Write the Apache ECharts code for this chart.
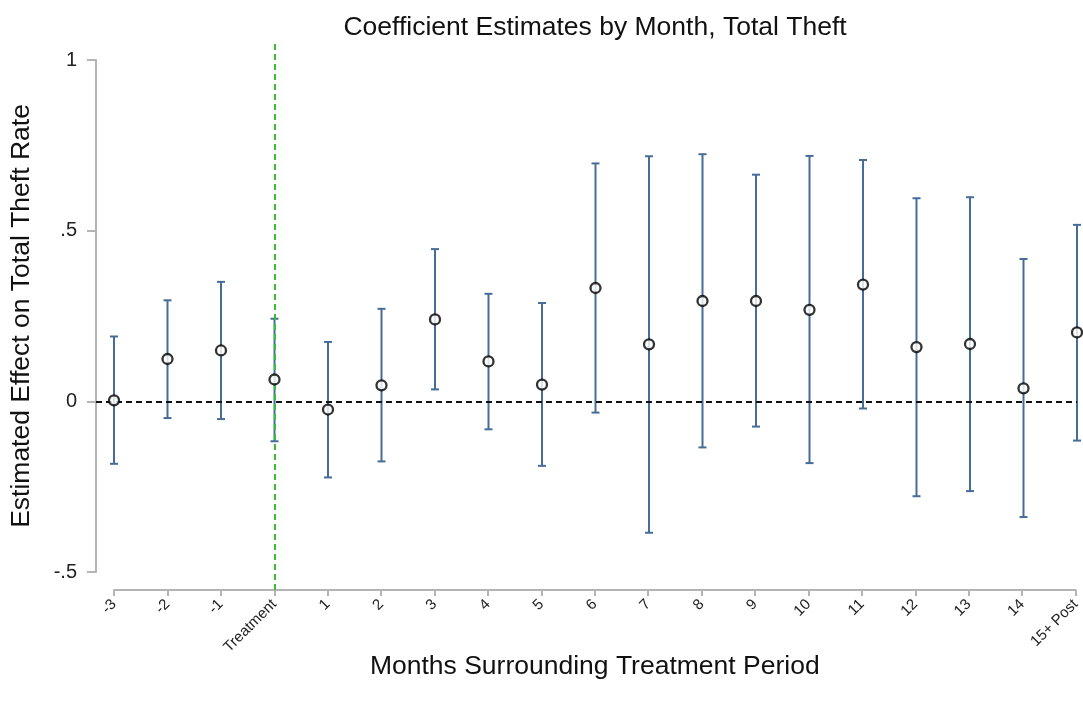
<!DOCTYPE html>
<html>
<head>
<meta charset="utf-8">
<script src="https://cdn.jsdelivr.net/npm/echarts@6/dist/echarts.min.js"></script>
<style>
  html, body { margin: 0; padding: 0; background: #fff; }
  #chart { width: 1083px; height: 708px; }
</style>
</head>
<body>
<div id="chart"></div>
<script>
// Months relative to treatment
const categories = ['-3', '-2', '-1', 'Treatment', '1', '2', '3', '4', '5', '6', '7', '8', '9', '10', '11', '12', '13', '14', '15+ Post'];
// Point estimates
const estimates = [0.003, 0.124, 0.149, 0.064, -0.024, 0.047, 0.240, 0.117, 0.049, 0.332, 0.167, 0.294, 0.294, 0.268, 0.342, 0.159, 0.168, 0.038, 0.202];
// Confidence interval bounds
const ciLower = [-0.183, -0.049, -0.052, -0.117, -0.223, -0.176, 0.035, -0.082, -0.189, -0.033, -0.385, -0.135, -0.074, -0.181, -0.021, -0.278, -0.263, -0.339, -0.115];
const ciUpper = [0.190, 0.296, 0.350, 0.242, 0.174, 0.271, 0.446, 0.315, 0.288, 0.697, 0.718, 0.724, 0.664, 0.719, 0.707, 0.595, 0.598, 0.417, 0.517];
// Y axis tick values
const yTicks = [-0.5, 0, 0.5, 1];
const treatmentIndex = categories.indexOf('Treatment');

const FONT = '"Liberation Sans", Arial, Helvetica, sans-serif';
const BAR_COLOR = '#466d97';
const AXIS_COLOR = '#b4b4b4';
// the y axis sits a little to the left of the first category
const leftPad = 18 / 53.5;

const chart = echarts.init(document.getElementById('chart'), null, { renderer: 'canvas' });

const pointData = estimates.map((v, i) => [i, v]);
const ciData = categories.map((c, i) => [i, ciLower[i], ciUpper[i]]);

const fmtY = v => String(v).replace(/^(-?)0\./, '$1.');

chart.setOption({
  animation: false,
  backgroundColor: '#fff',
  textStyle: { fontFamily: FONT },
  title: {
    text: 'Coefficient Estimates by Month, Total Theft',
    left: 590,
    textAlign: 'center',
    top: 9,
    textStyle: { fontFamily: FONT, fontSize: 26.5, fontWeight: 'normal', color: '#111' }
  },
  grid: [
    { left: 96, right: 6, top: 60, bottom: 136 },
    { left: 114, right: 6, top: 43, bottom: 118 }
  ],
  xAxis: [
    {
      gridIndex: 0, type: 'value', min: -leftPad, max: categories.length - 1,
      show: false
    },
    {
      gridIndex: 1, type: 'value', min: 0, max: categories.length - 1, interval: 1,
      name: 'Months Surrounding Treatment Period',
      nameLocation: 'middle', nameGap: 63, nameMoveOverlap: false,
      nameTextStyle: { fontFamily: FONT, fontSize: 26.5, color: '#111' },
      axisLine: { show: true, onZero: false, lineStyle: { color: AXIS_COLOR, width: 2 } },
      axisTick: { show: true, length: 6, lineStyle: { color: AXIS_COLOR, width: 2 } },
      splitLine: { show: false },
      axisLabel: {
        rotate: 45, margin: 12, fontSize: 15, color: '#222', fontFamily: FONT,
        formatter: v => categories[Math.round(v)] ?? ''
      }
    }
  ],
  yAxis: [
    {
      gridIndex: 0, type: 'value', min: yTicks[0], max: yTicks[yTicks.length - 1], interval: 0.5,
      name: 'Estimated Effect on Total Theft Rate',
      nameLocation: 'middle', nameGap: 61, nameMoveOverlap: false,
      nameTextStyle: { fontFamily: FONT, fontSize: 26.5, color: '#111' },
      axisLine: { show: true, onZero: false, lineStyle: { color: AXIS_COLOR, width: 2 } },
      axisTick: { show: true, length: 9, lineStyle: { color: AXIS_COLOR, width: 2 } },
      splitLine: { show: false },
      axisLabel: { margin: 19, fontSize: 20, color: '#222', fontFamily: FONT, formatter: fmtY }
    },
    { gridIndex: 1, type: 'value', min: 0, max: 1, show: false }
  ],
  series: [
    {
      name: 'CI',
      type: 'custom',
      xAxisIndex: 0, yAxisIndex: 0,
      data: ciData,
      z: 2,
      renderItem: (params, api) => {
        const x = api.value(0);
        const top = api.coord([x, api.value(2)]);
        const bot = api.coord([x, api.value(1)]);
        const w = 4;
        const style = { stroke: BAR_COLOR, lineWidth: 2 };
        return {
          type: 'group',
          children: [
            { type: 'line', shape: { x1: top[0], y1: top[1], x2: bot[0], y2: bot[1] }, style },
            { type: 'line', shape: { x1: top[0] - w, y1: top[1], x2: top[0] + w, y2: top[1] }, style },
            { type: 'line', shape: { x1: bot[0] - w, y1: bot[1], x2: bot[0] + w, y2: bot[1] }, style }
          ]
        };
      }
    },
    {
      name: 'Estimate',
      type: 'scatter',
      xAxisIndex: 0, yAxisIndex: 0,
      data: pointData,
      symbol: 'circle',
      symbolSize: 10,
      z: 5,
      itemStyle: { color: '#fff', borderColor: '#000', borderWidth: 2.3 },
      markLine: {
        silent: true,
        symbol: 'none',
        z: 4,
        label: { show: false },
        lineStyle: { color: '#111', type: [6, 4], width: 2 },
        data: [{ yAxis: 0 }]
      }
    },
    {
      name: 'Treatment',
      type: 'line',
      xAxisIndex: 1, yAxisIndex: 1,
      data: [],
      z: 3,
      markLine: {
        silent: true,
        symbol: 'none',
        z: 3,
        label: { show: false },
        lineStyle: { color: '#33c133', type: [6, 4], width: 2 },
        data: [{ xAxis: treatmentIndex }]
      }
    }
  ]
});
</script>
</body>
</html>
